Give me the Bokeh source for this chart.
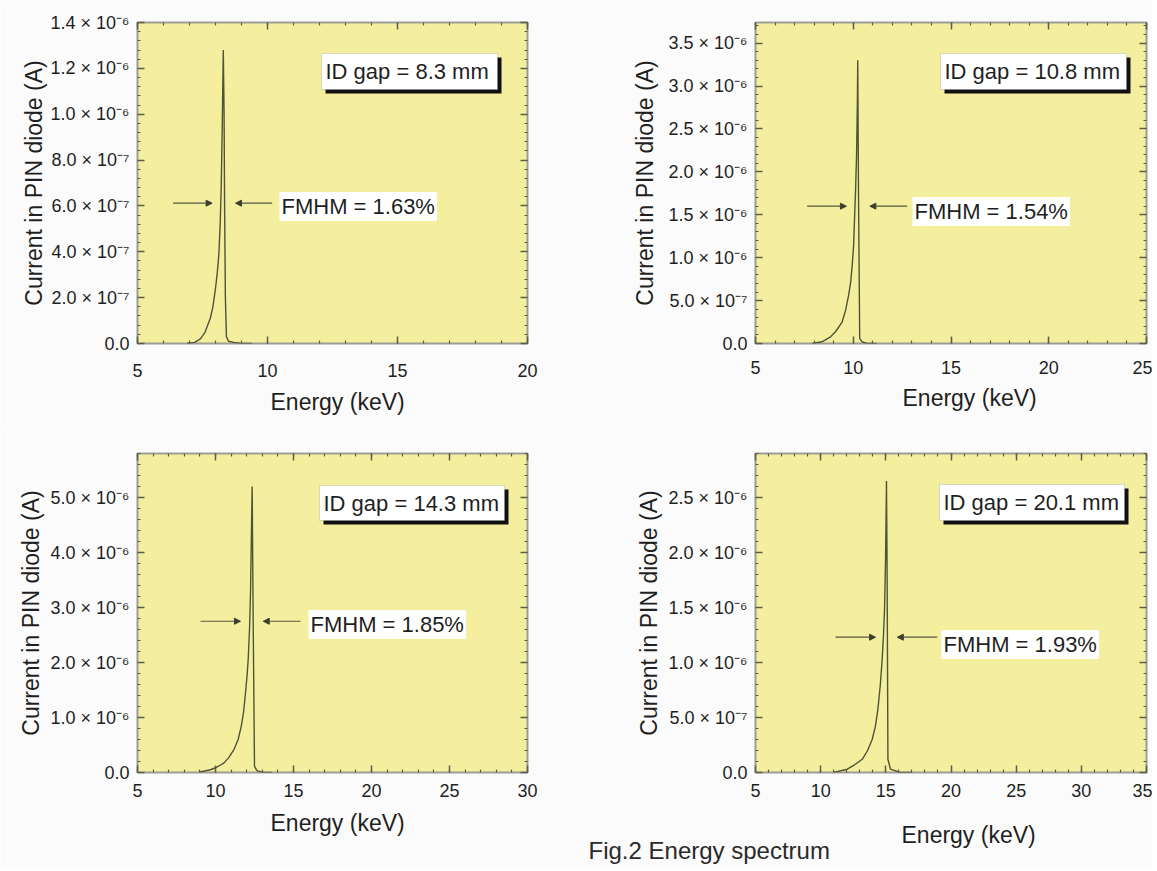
import math
from bokeh.plotting import figure
from bokeh.models import (Range1d, LinearAxis, FixedTicker, CustomJSTickFormatter,
                          Label, Arrow, NormalHead, BoxAnnotation, Title)
from bokeh.layouts import row, column
from bokeh.embed import file_html
from bokeh.resources import INLINE

FONT = "Liberation Sans"
TEXT_COLOR = "#1f1f1f"
LINE_COLOR = "#4f5436"
TICK_COLOR = "#5c5f48"
YELLOW = "#f4ee9f"
PAGE_BG = "#fafbfa"

# ---------------- data (energy in keV, current in A) ----------------
GAP_LABELS = ["ID gap = 8.3 mm", "ID gap = 10.8 mm", "ID gap = 14.3 mm", "ID gap = 20.1 mm"]
FWHM_LABELS = ["FMHM = 1.63%", "FMHM = 1.54%", "FMHM = 1.85%", "FMHM = 1.93%"]
X_TITLE = "Energy (keV)"
Y_TITLE = "Current in PIN diode (A)"
FIG_TITLE = "Fig.2 Energy spectrum"

# gap 8.3 mm
E_83 = [6.9, 7.2, 7.42, 7.6, 7.8, 7.9, 8.0, 8.07, 8.13, 8.18, 8.22, 8.26, 8.30, 8.33, 8.35, 8.38, 8.42, 8.5, 8.7, 9.0, 9.4]
I_83 = [0.0, 0.005e-6, 0.02e-6, 0.05e-6, 0.11e-6, 0.16e-6, 0.24e-6, 0.31e-6, 0.39e-6, 0.52e-6, 0.68e-6,
        0.95e-6, 1.28e-6, 1.0e-6, 0.6e-6, 0.2e-6, 0.03e-6, 0.01e-6, 0.005e-6, 0.0, 0.0]
# gap 10.8 mm
E_108 = [7.9, 8.4, 8.84, 9.1, 9.43, 9.6, 9.77, 9.87, 9.95, 10.02, 10.06, 10.12, 10.17, 10.21, 10.23, 10.27, 10.33, 10.45, 10.7, 11.2]
I_108 = [0.0, 0.02e-6, 0.078e-6, 0.14e-6, 0.25e-6, 0.38e-6, 0.57e-6, 0.72e-6, 0.92e-6, 1.15e-6, 1.42e-6,
         1.8e-6, 2.2e-6, 2.8e-6, 3.3e-6, 1.7e-6, 0.06e-6, 0.02e-6, 0.0, 0.0]
# gap 14.3 mm
E_143 = [9.0, 9.68, 10.1, 10.53, 10.85, 11.17, 11.45, 11.65, 11.8, 11.92, 12.02, 12.095, 12.18, 12.244, 12.35, 12.42, 12.5, 12.67, 13.08, 13.6]
I_143 = [0.01e-6, 0.05e-6, 0.1e-6, 0.17e-6, 0.27e-6, 0.41e-6, 0.6e-6, 0.84e-6, 1.1e-6, 1.44e-6, 1.75e-6,
         2.05e-6, 2.6e-6, 3.26e-6, 5.2e-6, 2.6e-6, 0.11e-6, 0.03e-6, 0.0, 0.0]
# gap 20.1 mm
E_201 = [11.0, 12.04, 12.6, 13.19, 13.6, 13.95, 14.2, 14.39, 14.58, 14.72, 14.82, 14.9, 14.98, 15.05, 15.1, 15.16, 15.36, 16.1, 17.0]
I_201 = [0.0, 0.03e-6, 0.07e-6, 0.12e-6, 0.2e-6, 0.3e-6, 0.42e-6, 0.575e-6, 0.8e-6, 1.03e-6, 1.25e-6,
         1.48e-6, 1.94e-6, 2.65e-6, 1.78e-6, 0.12e-6, 0.03e-6, 0.0, 0.0]

ENERGIES = [E_83, E_108, E_143, E_201]
CURRENTS = [I_83, I_108, I_143, I_201]

# axis ranges and ticks
X_RANGES = [(5, 20), (5, 25), (5, 30), (5, 35)]
Y_RANGES = [(0, 1.4e-6), (0, 3.74e-6), (0, 5.8e-6), (0, 2.9e-6)]
X_TICKS = [[5, 10, 15, 20], [5, 10, 15, 20, 25], [5, 10, 15, 20, 25, 30], [5, 10, 15, 20, 25, 30, 35]]
X_TICK_LABELS = [["5", "10", "15", "20"], ["5", "10", "15", "20", "25"],
                 ["5", "10", "15", "20", "25", "30"], ["5", "10", "15", "20", "25", "30", "35"]]
Y_TICKS_83 = [0.0, 2e-7, 4e-7, 6e-7, 8e-7, 1.0e-6, 1.2e-6, 1.4e-6]
Y_LABELS_83 = ["0.0", "2.0 × 10⁻⁷", "4.0 × 10⁻⁷", "6.0 × 10⁻⁷", "8.0 × 10⁻⁷", "1.0 × 10⁻⁶", "1.2 × 10⁻⁶", "1.4 × 10⁻⁶"]
Y_TICKS_108 = [0.0, 5e-7, 1.0e-6, 1.5e-6, 2.0e-6, 2.5e-6, 3.0e-6, 3.5e-6]
Y_LABELS_108 = ["0.0", "5.0 × 10⁻⁷", "1.0 × 10⁻⁶", "1.5 × 10⁻⁶", "2.0 × 10⁻⁶", "2.5 × 10⁻⁶", "3.0 × 10⁻⁶", "3.5 × 10⁻⁶"]
Y_TICKS_143 = [0.0, 1.0e-6, 2.0e-6, 3.0e-6, 4.0e-6, 5.0e-6]
Y_LABELS_143 = ["0.0", "1.0 × 10⁻⁶", "2.0 × 10⁻⁶", "3.0 × 10⁻⁶", "4.0 × 10⁻⁶", "5.0 × 10⁻⁶"]
Y_TICKS_201 = [0.0, 5e-7, 1.0e-6, 1.5e-6, 2.0e-6, 2.5e-6]
Y_LABELS_201 = ["0.0", "5.0 × 10⁻⁷", "1.0 × 10⁻⁶", "1.5 × 10⁻⁶", "2.0 × 10⁻⁶", "2.5 × 10⁻⁶"]
Y_TICKS = [Y_TICKS_83, Y_TICKS_108, Y_TICKS_143, Y_TICKS_201]
Y_TICK_LABELS = [Y_LABELS_83, Y_LABELS_108, Y_LABELS_143, Y_LABELS_201]

# FWHM arrows (data coords): y level, left arrow (start, end), right arrow (start, end)
ARROW_Y = [0.612e-6, 1.60e-6, 2.75e-6, 1.23e-6]
ARROW_LEFT = [(6.37, 7.87), (7.64, 9.65), (9.04, 11.6), (11.14, 14.21)]
ARROW_RIGHT = [(10.18, 8.77), (12.76, 10.85), (15.45, 13.06), (18.95, 15.88)]

# ---------------- layout (reference pixel geometry) ----------------
# canvas: (left, top, width, height) in window px ; frame: (left, top, right, bottom)
CANVAS = [(0, 0, 565, 428), (565, 0, 587, 428), (0, 428, 565, 441), (565, 428, 587, 441)]
FRAME = [(137, 22, 527, 343), (755, 22, 1146, 343), (137, 453, 527, 772), (755, 453, 1146, 772)]
X_STANDOFF = [20, 17, 11, 11]
GAP_BOX = [(321, 53, 497, 89), (940, 53, 1126, 89), (319, 485, 504, 520), (939, 484, 1124, 520)]
FWHM_POS = [(279, 206), (912, 211), (308, 624), (941, 644)]
XTITLE_OFFSET = [133, 147, 133, 146]   # left edge of x titles, measured from frame left
XTITLE_STANDOFF = [14, 13, 16, 40]
YTITLE_STANDOFF = [2, 15, 8, 7]
CAPTION_OFFSET = -167                   # caption left edge, from last frame's left
CAPTION_STANDOFF = -62


def px2data(k, px, py):
    l, t, r, b = FRAME[k]
    x0, x1 = X_RANGES[k]
    y0, y1 = Y_RANGES[k]
    return x0 + (px - l) / (r - l) * (x1 - x0), y0 + (b - py) / (b - t) * (y1 - y0)


def label_formatter(vals, labs):
    return CustomJSTickFormatter(args=dict(vals=vals, labs=labs), code="""
        const tol = 1e-3 * Math.abs(vals[1] - vals[0]);
        for (let i = 0; i < vals.length; i++) {
            if (Math.abs(vals[i] - tick) <= tol) return labs[i];
        }
        return "";
    """)


def style_axis(ax, ticker, show_labels, fmt=None, standoff=8):
    ax.ticker = ticker
    ax.axis_line_color = None
    ax.major_tick_in = 7
    ax.major_tick_out = 0
    ax.minor_tick_in = 3
    ax.minor_tick_out = 0
    ax.major_tick_line_color = TICK_COLOR
    ax.major_tick_line_width = 1.5
    ax.minor_tick_line_color = TICK_COLOR
    ax.minor_tick_line_width = 1.2
    if show_labels:
        ax.formatter = fmt
        ax.major_label_text_font = FONT
        ax.major_label_text_font_size = "18px"
        ax.major_label_text_color = TEXT_COLOR
        ax.major_label_standoff = standoff
    else:
        ax.formatter = CustomJSTickFormatter(code="return '';")
        ax.major_label_text_font_size = "0px"
        ax.major_label_standoff = 0


def make_panel(k):
    cl, ct, cw, chh = CANVAS[k]
    fl, ft, fr, fb = FRAME[k]
    p = figure(width=cw, height=chh,
               x_range=Range1d(*X_RANGES[k]), y_range=Range1d(*Y_RANGES[k]),
               output_backend="svg", toolbar_location=None,
               min_border_left=fl - cl, min_border_right=cl + cw - fr,
               min_border_top=ft - ct, min_border_bottom=ct + chh - fb)
    p.background_fill_color = YELLOW
    p.border_fill_color = PAGE_BG
    p.outline_line_color = "#9d9d96"
    p.outline_line_width = 2
    p.grid.visible = False

    xs = X_TICKS[k]
    x_minor = list(range(X_RANGES[k][0], X_RANGES[k][1] + 1))
    ys = Y_TICKS[k]
    ystep = ys[1] - ys[0]
    n_minor = int(round((Y_RANGES[k][1] - Y_RANGES[k][0]) / (ystep / 5))) + 1
    y_minor = [i * ystep / 5 for i in range(n_minor)]
    xt = FixedTicker(ticks=xs, minor_ticks=x_minor)
    yt = FixedTicker(ticks=ys, minor_ticks=y_minor)

    style_axis(p.xaxis[0], xt, True, label_formatter(xs, X_TICK_LABELS[k]), X_STANDOFF[k])
    style_axis(p.yaxis[0], yt, True, label_formatter(ys, Y_TICK_LABELS[k]), 8)
    top = LinearAxis()
    right = LinearAxis()
    style_axis(top, FixedTicker(ticks=xs, minor_ticks=x_minor), False)
    style_axis(right, FixedTicker(ticks=ys, minor_ticks=y_minor), False)
    p.add_layout(top, "above")
    p.add_layout(right, "right")

    # axis titles (as side-panel titles so they can be shifted precisely)
    p.add_layout(Title(text=X_TITLE, align="left", offset=XTITLE_OFFSET[k], standoff=XTITLE_STANDOFF[k],
                       text_font=FONT, text_font_size="23px", text_font_style="normal",
                       text_color=TEXT_COLOR), "below")
    p.add_layout(Title(text=Y_TITLE, align="center", standoff=YTITLE_STANDOFF[k],
                       text_font=FONT, text_font_size="23px", text_font_style="normal",
                       text_color=TEXT_COLOR), "left")

    # spectrum
    p.line(ENERGIES[k], CURRENTS[k], line_color=LINE_COLOR, line_width=1.4)

    # FWHM arrows
    ay = ARROW_Y[k]
    for (xs0, xs1) in (ARROW_LEFT[k], ARROW_RIGHT[k]):
        p.add_layout(Arrow(x_start=xs0, y_start=ay, x_end=xs1, y_end=ay,
                           line_color="#55583f", line_width=1.2,
                           end=NormalHead(size=6, fill_color="#3c3e2c", line_color="#3c3e2c", line_width=1)))

    # FWHM label
    fx, fy = px2data(k, *FWHM_POS[k])
    p.add_layout(Label(x=fx, y=fy, text=FWHM_LABELS[k], text_align="left", text_baseline="middle",
                       text_font=FONT, text_font_size="22px", text_color=TEXT_COLOR,
                       background_fill_color="white", padding=2))

    # ID gap box with drop shadow
    bl, bt, br, bb = GAP_BOX[k]
    sl, st = px2data(k, bl + 4, bt + 4)
    sr, sb = px2data(k, br + 4, bb + 4)
    p.add_layout(BoxAnnotation(left=sl, right=sr, top=st, bottom=sb, fill_color="#111111",
                               fill_alpha=1.0, line_color=None))
    wl, wt = px2data(k, bl, bt)
    wr, wb = px2data(k, br, bb)
    p.add_layout(BoxAnnotation(left=wl, right=wr, top=wt, bottom=wb, fill_color="white",
                               fill_alpha=1.0, line_color="#8a8a8a", line_width=1))
    gx, gy = px2data(k, bl + 4, (bt + bb) / 2)
    p.add_layout(Label(x=gx, y=gy, text=GAP_LABELS[k], text_align="left", text_baseline="middle",
                       text_font=FONT, text_font_size="22px", text_color=TEXT_COLOR))
    return p


panels = [make_panel(k) for k in range(4)]

# figure caption, below the last panel's axis title
panels[3].add_layout(Title(text=FIG_TITLE, align="left", vertical_align="top",
                           offset=CAPTION_OFFSET, standoff=CAPTION_STANDOFF,
                           text_font=FONT, text_font_size="24px", text_font_style="normal",
                           text_color="#2a2a2a"), "below")

layout = column(row(panels[0], panels[1]), row(panels[2], panels[3]))

open("out.html", "w").write(file_html(layout, INLINE))
